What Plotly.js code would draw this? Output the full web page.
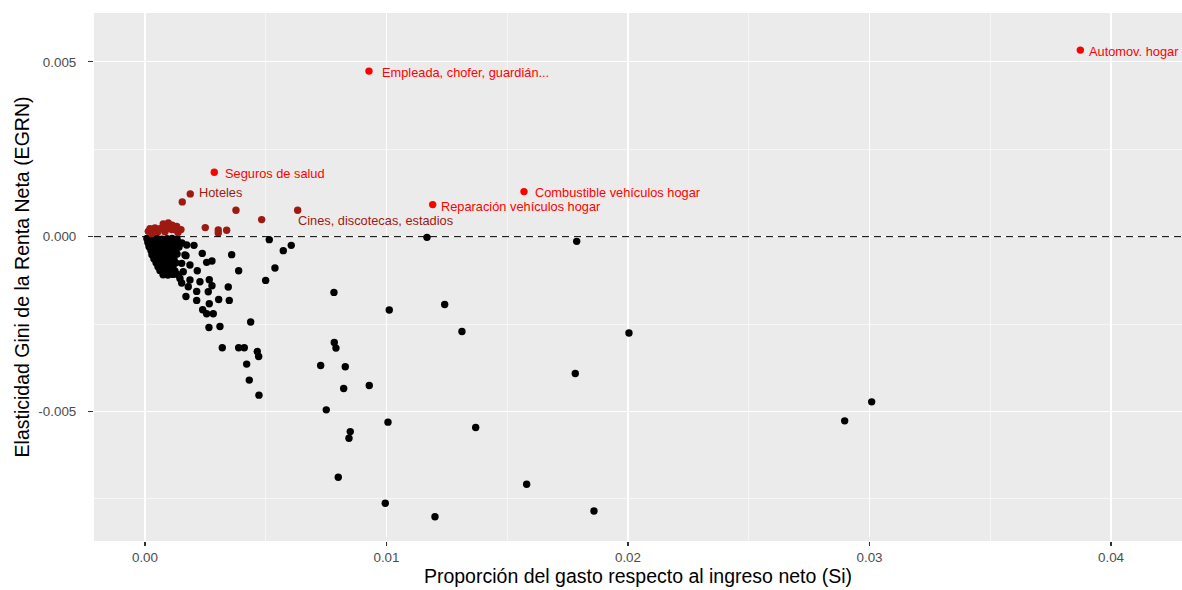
<!DOCTYPE html>
<html>
<head>
<meta charset="utf-8">
<script src="https://cdn.plot.ly/plotly-3.0.1.min.js"></script>
<style>html,body{margin:0;padding:0;background:#fff;}#chart{width:1182px;height:590px;}</style>
</head>
<body>
<div id="chart"></div>
<script>
// Labeled highlighted points (bright red)
const hiNames = ["Automov. hogar", "Empleada, chofer, guardián...", "Seguros de salud", "Combustible vehículos hogar", "Reparación vehículos hogar"];
const hiX = [0.03873, 0.009275, 0.002870, 0.015694, 0.011913];
const hiY = [0.005338, 0.004737, 0.001842, 0.001289, 0.000917];

// Labeled positive points (dark red)
const posNames = ["Hoteles", "Cines, discotecas, estadios"];
const posX = [0.001876, 0.006323];
const posY = [0.001223, 0.000754];

// Other positive points (dark red)
const redX = [0.001545, 0.003768, 0.004832, 0.002497, 0.003035, 0.003035, 0.003383,
  0.000207, 0.000414, 0.000621, 0.000758, 0.000899, 0.000965, 0.001130, 0.001213, 0.001313, 0.001491,
  0.000137, 0.001106, 0.000538, 0.000828, 0.000290, 0.001366];
const redY = [0.000994, 0.000754, 0.000487, 0.000258, 0.000192, 0.000106, 0.000181,
  0.000229, 0.000249, 0.000229, 0.000364, 0.000229, 0.000393, 0.000324, 0.000201, 0.000295, 0.000201,
  0.000152, 0.000201, 0.000143, 0.000143, 0.000086, 0.000115];

// Negative points (black)
const negX = [0.005147, 0.006058, 0.005727, 0.005383, 0.004998, 0.011677, 0.017876, 0.007826, 0.010116, 0.012410,
  0.013126, 0.020041, 0.017818, 0.003590, 0.003880, 0.003449, 0.003491, 0.003052, 0.002774, 0.002555,
  0.002373, 0.002029, 0.001698, 0.002166, 0.002663, 0.002774, 0.002141, 0.002141, 0.001698, 0.002663,
  0.002389, 0.002555, 0.002828, 0.002650, 0.003106, 0.004377, 0.003201, 0.003880, 0.004112, 0.004650,
  0.004708, 0.004211, 0.004319, 0.004720, 0.007839, 0.007909, 0.007275, 0.008294, 0.008228, 0.009288,
  0.007507, 0.010062, 0.013694, 0.008501, 0.008447, 0.008004, 0.015805, 0.009950, 0.012008, 0.018592,
  0.030091, 0.028973, 0.001727, 0.001656, 0.001520, 0.001863, 0.001586, 0.001449, 0.001863, 0.002277,
  0.001793, 0.002621, 0.001520,
  0.00008, 0.00029, 0.00050, 0.00070, 0.00091, 0.00112, 0.00133,
  0.00012, 0.00033, 0.00054, 0.00075, 0.00095, 0.00116, 0.00137, 0.00153,
  0.00017, 0.00037, 0.00058, 0.00079, 0.00099, 0.00120, 0.00141,
  0.00025, 0.00046, 0.00066, 0.00087, 0.00108, 0.00128,
  0.00029, 0.00050, 0.00070, 0.00091, 0.00112, 0.00133,
  0.00037, 0.00058, 0.00079, 0.00099, 0.00120,
  0.00046, 0.00066, 0.00087, 0.00108, 0.00128,
  0.00054, 0.00075, 0.00095, 0.00116,
  0.00062, 0.00083, 0.00104, 0.00124,
  0.00075, 0.00095, 0.00116, 0.00137];
const negY = [-0.000086, -0.000249, -0.000401, -0.000897, -0.001252, -0.000020, -0.000135, -0.001596, -0.002100, -0.001940,
  -0.002713, -0.002759, -0.003917, -0.000516, -0.000974, -0.001441, -0.001825, -0.001797, -0.000696, -0.000736,
  -0.000479, -0.000249, -0.000544, -0.000974, -0.001232, -0.001404, -0.001567, -0.001825, -0.001711, -0.001920,
  -0.002092, -0.002206, -0.002206, -0.002599, -0.002570, -0.002444, -0.003181, -0.003181, -0.003181, -0.003287,
  -0.003430, -0.003648, -0.004106, -0.004536, -0.003029, -0.003189, -0.003688, -0.003725, -0.004347, -0.004261,
  -0.004957, -0.005309, -0.005464, -0.005579, -0.005768, -0.006885, -0.007086, -0.007630, -0.008014, -0.007851,
  -0.004728, -0.005272, -0.000238, -0.000524, -0.000765, -0.000811, -0.001003, -0.001195, -0.001241, -0.001289,
  -0.001433, -0.001576, -0.001327,
  -0.00005, -0.00006, -0.00005, -0.00007, -0.00006, -0.00005, -0.00007,
  -0.00017, -0.00018, -0.00016, -0.00018, -0.00017, -0.00019, -0.00016, -0.00018,
  -0.00029, -0.00028, -0.00030, -0.00028, -0.00029, -0.00027, -0.00030,
  -0.00040, -0.00041, -0.00039, -0.00041, -0.00040, -0.00042,
  -0.00052, -0.00051, -0.00053, -0.00051, -0.00052, -0.00050,
  -0.00063, -0.00064, -0.00062, -0.00064, -0.00063,
  -0.00075, -0.00074, -0.00076, -0.00074, -0.00075,
  -0.00086, -0.00087, -0.00085, -0.00086,
  -0.00097, -0.00098, -0.00096, -0.00098,
  -0.00109, -0.00110, -0.00108, -0.00109];

// Axis ticks
const xTickVals = [0, 0.01, 0.02, 0.03, 0.04];
const xTickText = ["0.00", "0.01", "0.02", "0.03", "0.04"];
const yTickVals = [-0.005, 0, 0.005];
const yTickText = ["-0.005", "0.000", "0.005"];

const BRIGHT = "#FF0000";
const DARK = "#9E1A10";
const msize = 7.4;
const FONT = "Liberation Sans, Arial, sans-serif";

const traces = [
  {x: negX, y: negY, type: "scatter", mode: "markers", marker: {color: "#000000", size: msize}, hoverinfo: "skip"},
  {x: redX, y: redY, type: "scatter", mode: "markers", marker: {color: DARK, size: msize}, hoverinfo: "skip"},
  {x: posX, y: posY, type: "scatter", mode: "markers", marker: {color: DARK, size: msize}, hoverinfo: "skip"},
  {x: hiX, y: hiY, type: "scatter", mode: "markers", marker: {color: BRIGHT, size: msize}, hoverinfo: "skip"}
];

// label offsets (pixels) relative to the point
const hiShift = [[7, -1], [11, -1], [9, -1], [9, -1], [6, -2]];
const posShift = [[7, 1], [-2, -10]];

const annotations = [];
hiNames.forEach((t, i) => annotations.push({
  x: hiX[i], y: hiY[i], text: t, showarrow: false, xanchor: "left", yanchor: "middle",
  xshift: hiShift[i][0], yshift: hiShift[i][1],
  font: {family: FONT, size: 12.8, color: BRIGHT}
}));
posNames.forEach((t, i) => annotations.push({
  x: posX[i], y: posY[i], text: t, showarrow: false, xanchor: "left", yanchor: "middle",
  xshift: posShift[i][0], yshift: posShift[i][1],
  font: {family: FONT, size: 12.8, color: DARK}
}));

const axisCommon = {
  showline: false, zeroline: false, showgrid: true, gridcolor: "#FFFFFF", gridwidth: 1.1,
  ticks: "outside", ticklen: 5, tickwidth: 1.1, tickcolor: "#333333",
  tickfont: {family: FONT, size: 13.4, color: "#4D4D4D"},
  automargin: false
};

const layout = {
  width: 1182, height: 590,
  margin: {l: 94, r: 0, t: 13, b: 49},
  paper_bgcolor: "#FFFFFF", plot_bgcolor: "#EBEBEB",
  showlegend: false,
  font: {family: FONT},
  xaxis: Object.assign({}, axisCommon, {
    range: [-0.00211, 0.04294], tickmode: "array", tickvals: xTickVals, ticktext: xTickText,
    ticklen: 4, ticklabelstandoff: 0,
    minor: {tickmode: "linear", tick0: 0, dtick: 0.005, showgrid: true, gridcolor: "#FFFFFF", gridwidth: 0.55, ticks: ""},
    title: {text: "Proporción del gasto respecto al ingreso neto (Si)", standoff: 5,
      font: {family: FONT, size: 19.5, color: "#000000"}}
  }),
  yaxis: Object.assign({}, axisCommon, {
    range: [-0.00871, 0.0064], tickmode: "array", tickvals: yTickVals, ticktext: yTickText,
    ticklabelstandoff: 9,
    minor: {tickmode: "linear", tick0: 0, dtick: 0.0025, showgrid: true, gridcolor: "#FFFFFF", gridwidth: 0.55, ticks: ""},
    title: {text: "Elasticidad Gini de la Renta Neta (EGRN)", standoff: 3,
      font: {family: FONT, size: 19.5, color: "#000000"}}
  }),
  shapes: [{type: "line", xref: "paper", x0: 0, x1: 1, yref: "y", y0: 0, y1: 0,
    line: {color: "#000000", width: 1, dash: "7px,5px"}, layer: "above"}],
  annotations: annotations
};

Plotly.newPlot("chart", traces, layout, {displayModeBar: false, staticPlot: true});
</script>
</body>
</html>
